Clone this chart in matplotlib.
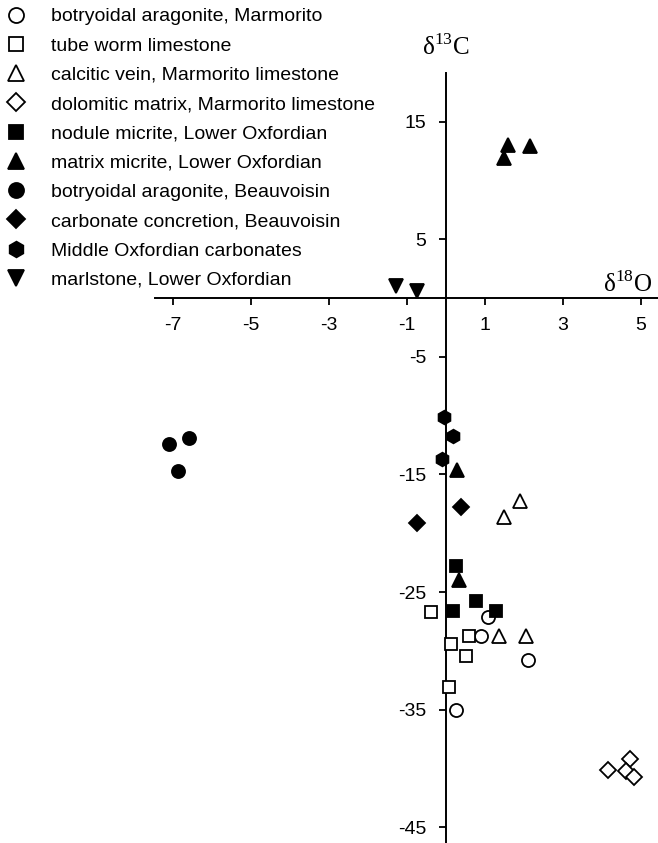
import matplotlib
matplotlib.use("Agg")
import matplotlib.pyplot as plt
import numpy as np

plt.rcParams['font.family'] = ['Liberation Sans', 'DejaVu Sans']
plt.rcParams['mathtext.fontset'] = 'custom'
plt.rcParams['mathtext.rm'] = 'Liberation Serif'

labels = [
    "botryoidal aragonite, Marmorito",
    "tube worm limestone",
    "calcitic vein, Marmorito limestone",
    "dolomitic matrix, Marmorito limestone",
    "nodule micrite, Lower Oxfordian",
    "matrix micrite, Lower Oxfordian",
    "botryoidal aragonite, Beauvoisin",
    "carbonate concretion, Beauvoisin",
    "Middle Oxfordian carbonates",
    "marlstone, Lower Oxfordian",
]
markers = ['o', 's', '^', 'D', 's', '^', 'o', 'D', 'h', 'v']
filled = [False, False, False, False, True, True, True, True, True, True]
sizes = [9.4, 8.6, 9.4, 8.4, 8.6, 9.4, 9.4, 8.4, 9.8, 9.4]

# d18O values
d18O = [
    [1.07, 0.90, 2.11, 0.26],
    [-0.39, 0.59, 0.14, 0.51, 0.08],
    [1.48, 1.91, 1.36, 2.06],
    [4.16, 4.72, 4.63, 4.83],
    [0.27, 0.78, 0.17, 1.29],
    [1.60, 2.15, 1.49, 0.29, 0.34],
    [-7.10, -6.58, -6.88],
    [0.38, -0.73],
    [-0.04, 0.19, -0.10],
    [-1.29, -0.73],
]
# d13C values
d13C = [
    [-27.1, -28.7, -30.8, -35.0],
    [-26.7, -28.7, -29.4, -30.4, -33.1],
    [-18.6, -17.3, -28.7, -28.7],
    [-40.1, -39.2, -40.2, -40.7],
    [-22.8, -25.8, -26.6, -26.6],
    [13.0, 12.9, 11.9, -14.6, -24.0],
    [-12.4, -11.9, -14.7],
    [-17.8, -19.1],
    [-10.1, -11.7, -13.7],
    [1.0, 0.6],
]

xticks = [-7, -5, -3, -1, 1, 3, 5]
yticks = [15, 5, -5, -15, -25, -35, -45]

fig = plt.figure(figsize=(6.58, 8.43), dpi=100)
ax = fig.add_axes([0, 0, 1, 1])

handles = []
for i in range(len(labels)):
    fc = 'black' if filled[i] else 'white'
    h, = ax.plot(d18O[i], d13C[i], linestyle='none', marker=markers[i],
                 markersize=sizes[i], markerfacecolor=fc,
                 markeredgecolor='black', markeredgewidth=1.3,
                 label=labels[i], zorder=3)
    handles.append(h)

ax.set_xlim(-11.44, 5.44)
ax.set_ylim(-46.34, 25.34)

ax.spines['left'].set_position(('data', 0))
ax.spines['bottom'].set_position(('data', 0))
ax.spines['right'].set_visible(False)
ax.spines['top'].set_visible(False)
ax.spines['left'].set_bounds(-46.34, 19.1)
ax.spines['bottom'].set_bounds(-7.46, 5.44)
for s in ['left', 'bottom']:
    ax.spines[s].set_linewidth(1.4)

ax.set_xticks(xticks)
ax.set_yticks(yticks)
ax.set_xticklabels([str(t) for t in xticks])
ax.set_yticklabels([str(t) for t in yticks])
ax.tick_params(axis='both', direction='out', length=5, width=1.3,
               labelsize=14, pad=9)
ax.set_facecolor('none')

ax.text(0, 21.3, 'δ$^{13}$C', ha='center', va='center', fontsize=18,
        family='Liberation Serif')
ax.text(4.65, 1.2, 'δ$^{18}$O', ha='center', va='center', fontsize=18,
        family='Liberation Serif')

leg = fig.legend(handles=handles, loc='upper left', bbox_to_anchor=(-0.009, 1.007),
                 frameon=False, fontsize=14, handlelength=0.9, markerscale=1.15,
                 handletextpad=1.35, labelspacing=0.6, borderaxespad=0.3)

fig.savefig('out.png', dpi=100)
